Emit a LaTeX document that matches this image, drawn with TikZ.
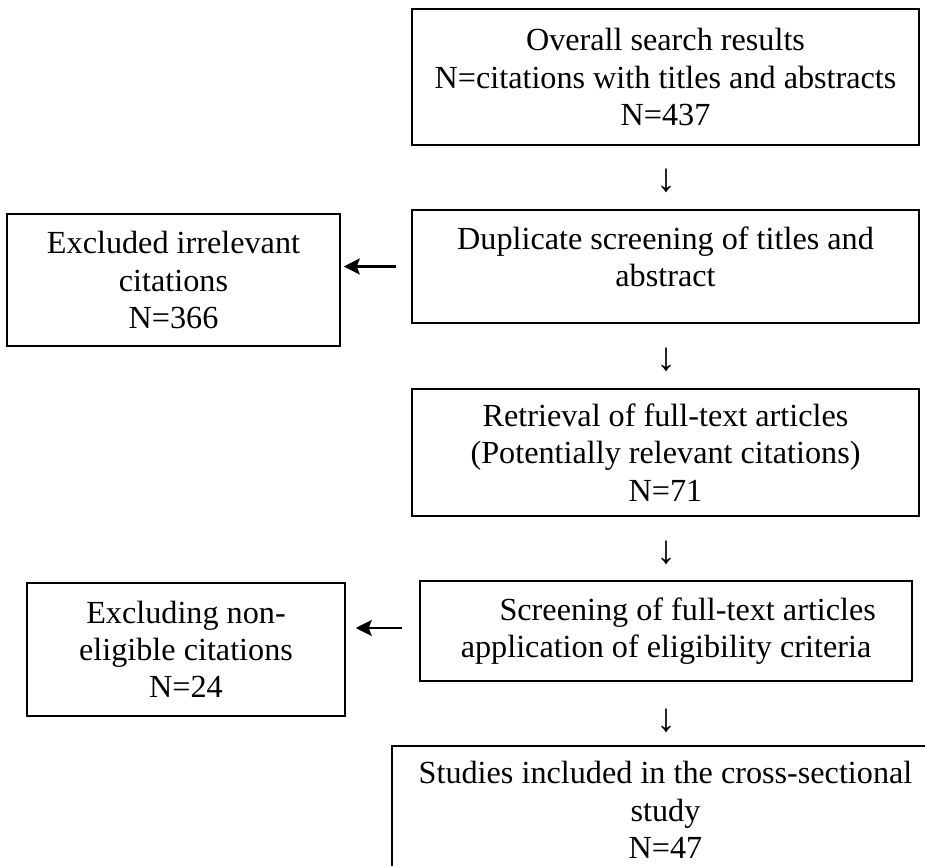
\documentclass[tikz,border=0pt]{standalone}
\usepackage{fontspec}
\setmainfont{Liberation Serif}
\usetikzlibrary{arrows.meta}
\tikzset{
  stage/.style={draw, line width=1.5pt, minimum width=507pt, minimum height=136pt,
                align=center, inner sep=0pt, font=\fontsize{32.2}{37.3}\selectfont},
  exclbox/.style={stage, minimum width=333pt, minimum height=132pt},
  downmark/.style={inner sep=0pt, font=\fontsize{40}{44}\selectfont},
  exclarrow/.style={-{Stealth[length=16pt, width=16pt, inset=3pt]}, line width=2.5pt},
}

\begin{document}
\begin{tikzpicture}[x=1pt, y=-1pt]
    \useasboundingbox (0,0) rectangle (925,866);
    \node[stage] (overall) at (665.5, 77) {Overall search results\\N=citations with titles and abstracts\\N=437};
    \node[stage, minimum height=113pt] (dupscreen) at (665.5, 266.5) {Duplicate screening of titles and\\abstract\\[-18pt]\mbox{}};
    \node[stage, minimum height=127pt] (retrieval) at (665.5, 452.5) {Retrieval of full-text articles\\(Potentially relevant citations)\\N=71};
    \node[stage, minimum width=492pt, minimum height=100pt] (eligscreen) at (666, 631) {\hspace*{1.35em}Screening of full-text articles\\application of eligibility criteria};
    \node[stage, minimum width=547pt, minimum height=128pt] (included) at (665.5, 810) {Studies included in the cross-sectional\\study\\N=47};
    \node[exclbox] (excl1) at (173.5, 280) {Excluded irrelevant\\citations\\N=366};
    \node[exclbox, minimum width=318pt, minimum height=133pt] (excl2) at (186, 649.5) {Excluding non-\\eligible citations\\N=24};
    \node[downmark] (down1) at (666, 180.5) {↓};
    \node[downmark] (down2) at (666, 359.5) {↓};
    \node[downmark] (down3) at (666, 552.5) {↓};
    \node[downmark] (down4) at (666, 720.5) {↓};
    \draw[exclarrow, shorten >=3pt] ([xshift=-15pt]dupscreen.west) -- (dupscreen.west -| excl1.east);
    \draw[exclarrow, shorten >=10pt] ([xshift=-17pt, yshift=3pt]eligscreen.west) -- ([yshift=3pt]eligscreen.west -| excl2.east);
  \end{tikzpicture}
\end{document}
